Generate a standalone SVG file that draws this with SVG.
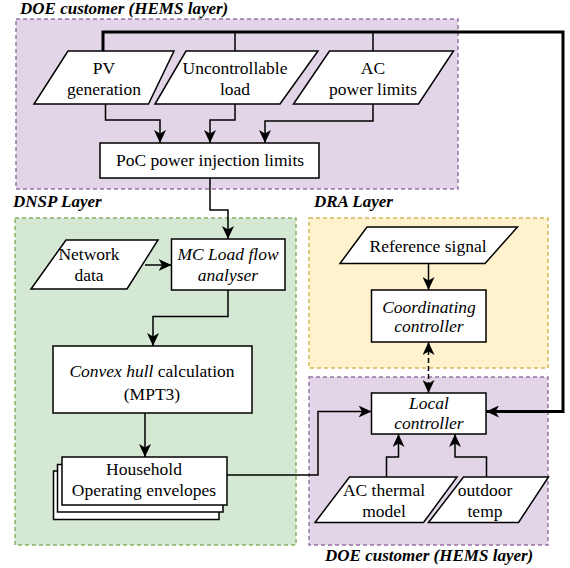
<svg xmlns="http://www.w3.org/2000/svg" width="570" height="568" viewBox="0 0 570 568">
  <style>
    text { font-family: "Liberation Serif", serif; font-size: 17.5px; fill: #000; text-anchor: middle; }
    .it { font-style: italic; }
    .layer { font-weight: bold; font-style: italic; text-anchor: start; font-size: 17px; }
    .box { fill: #fff; stroke: #000; stroke-width: 1.5; }
    .wire { fill: none; stroke: #000; stroke-width: 1.5; }
    .thick { fill: none; stroke: #000; stroke-width: 3; }
    .purple { fill: #e1d5e7; stroke: #9673a6; stroke-width: 1.5; stroke-dasharray: 4 3; }
    .green { fill: #d5e8d4; stroke: #82b366; stroke-width: 1.5; stroke-dasharray: 4 3; }
    .orange { fill: #fff2cc; stroke: #d6b656; stroke-width: 1.5; stroke-dasharray: 4 3; }
  </style>
  <defs>
    <marker id="arrow" viewBox="0 0 13 12" refX="13" refY="6" markerWidth="13" markerHeight="12" markerUnits="userSpaceOnUse" orient="auto-start-reverse">
      <path d="M13,6 L0,0 L3.5,6 L0,12 Z" fill="#000"/>
    </marker>
  </defs>

  <rect width="570" height="568" fill="#fff"/>

  <!-- layer containers -->
  <g id="layers">
    <rect class="purple" x="16" y="19" width="442" height="170"/>
    <rect class="green" x="15" y="218" width="281" height="327"/>
    <rect class="orange" x="309" y="218" width="239" height="150"/>
    <rect class="purple" x="309" y="377" width="239" height="168"/>
    <text class="layer" x="20" y="14">DOE customer (HEMS layer)</text>
    <text class="layer" x="13" y="207">DNSP Layer</text>
    <text class="layer" x="314" y="207">DRA Layer</text>
    <text class="layer" x="325" y="561">DOE customer (HEMS layer)</text>
  </g>

  <!-- connectors -->
  <g id="connectors">
    <path class="thick" d="M103,51 V32 H563 V411.5 H486" marker-end="url(#arrow)"/>
    <path class="wire" d="M235,32 V51"/>
    <path class="wire" d="M373,32 V51"/>
    <path class="wire" d="M105.5,104 V120 H160 V143" marker-end="url(#arrow)"/>
    <path class="wire" d="M235,104 V120 H210 V143" marker-end="url(#arrow)"/>
    <path class="wire" d="M373,104 V121 H265 V143" marker-end="url(#arrow)"/>
    <path class="wire" d="M210,178 V210 H228 V239" marker-end="url(#arrow)"/>
    <path class="wire" d="M145,265 H171.5" marker-end="url(#arrow)"/>
    <path class="wire" d="M228,290 V316.5 H153 V346" marker-end="url(#arrow)"/>
    <path class="wire" d="M145,413 V457" marker-end="url(#arrow)"/>
    <path class="wire" d="M227,475 H318 V411.5 H371.5" marker-end="url(#arrow)"/>
    <path class="wire" d="M428.5,263.5 V290" marker-end="url(#arrow)"/>
    <path class="wire" d="M428.5,342 V393" stroke-dasharray="5 3" marker-start="url(#arrow)" marker-end="url(#arrow)"/>
    <path class="wire" d="M386.5,477 V457 H398.5 V434" marker-end="url(#arrow)"/>
    <path class="wire" d="M486.5,477 V457 H455 V434" marker-end="url(#arrow)"/>
  </g>

  <!-- HEMS inputs -->
  <g id="pv-generation">
    <polygon class="box" points="68,51 174,51 148.5,104 34,104"/>
    <text x="104" y="74">PV</text>
    <text x="104" y="95">generation</text>
  </g>
  <g id="uncontrollable-load">
    <polygon class="box" points="186,51 318,51 280,104 155,104"/>
    <text x="235" y="74">Uncontrollable</text>
    <text x="235" y="95">load</text>
  </g>
  <g id="ac-power-limits">
    <polygon class="box" points="329.5,51 453.5,51 418.5,104 293.5,104"/>
    <text x="373" y="74">AC</text>
    <text x="373" y="95">power limits</text>
  </g>
  <g id="poc-limits">
    <rect class="box" x="100" y="143" width="219" height="35"/>
    <text x="210" y="166">PoC power injection limits</text>
  </g>

  <!-- DNSP nodes -->
  <g id="network-data">
    <polygon class="box" points="66,240 158,240 127,289 31,289"/>
    <text x="89" y="260">Network</text>
    <text x="89" y="281">data</text>
  </g>
  <g id="load-flow">
    <rect class="box" x="171.5" y="239" width="113.5" height="51"/>
    <text class="it" x="228" y="260">MC Load flow</text>
    <text class="it" x="228" y="281">analyser</text>
  </g>
  <g id="convex-hull">
    <rect class="box" x="53" y="346" width="199" height="67"/>
    <text x="152" y="377"><tspan class="it">Convex hull</tspan> calculation</text>
    <text x="152" y="399.5">(MPT3)</text>
  </g>
  <g id="operating-envelopes">
    <rect class="box" x="53.5" y="471" width="165.5" height="48.5"/>
    <rect class="box" x="57.5" y="464.5" width="165.5" height="47.5"/>
    <rect class="box" x="62" y="457" width="165" height="48"/>
    <text x="144" y="475">Household</text>
    <text x="144" y="495.5">Operating envelopes</text>
  </g>

  <!-- DRA nodes -->
  <g id="reference-signal">
    <polygon class="box" points="367,227 517.5,227 485,263.5 340,263.5"/>
    <text x="428" y="252">Reference signal</text>
  </g>
  <g id="coordinating-controller">
    <rect class="box" x="371.5" y="290" width="114.5" height="52"/>
    <text class="it" x="429" y="313">Coordinating</text>
    <text class="it" x="429" y="332">controller</text>
  </g>

  <!-- customer-side nodes -->
  <g id="local-controller">
    <rect class="box" x="371.5" y="393" width="114.5" height="41"/>
    <text class="it" x="429" y="409">Local</text>
    <text class="it" x="429" y="429">controller</text>
  </g>
  <g id="ac-thermal-model">
    <polygon class="box" points="349.5,477 457,477 423.5,522.5 315,522.5"/>
    <text x="384" y="496">AC thermal</text>
    <text x="384" y="517">model</text>
  </g>
  <g id="outdoor-temp">
    <polygon class="box" points="463.5,477 548.5,477 518.5,522.5 428.5,522.5"/>
    <text x="485" y="496">outdoor</text>
    <text x="485" y="517">temp</text>
  </g>
</svg>
